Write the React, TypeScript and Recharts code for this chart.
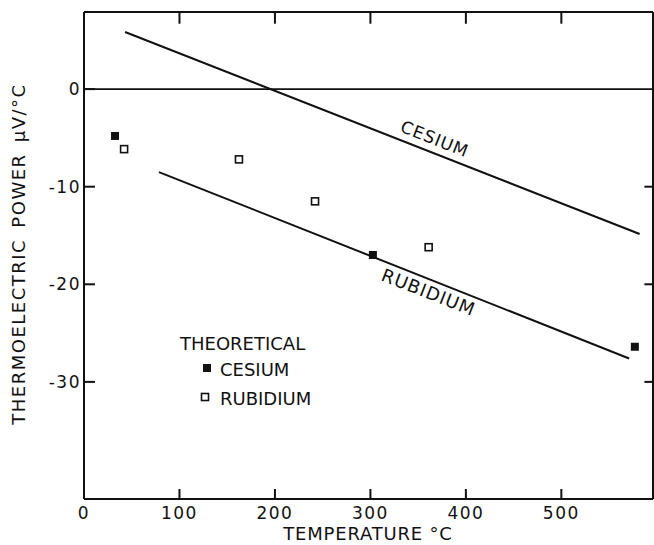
import React from 'react';
import {
  ScatterChart,
  Scatter,
  XAxis,
  YAxis,
  ReferenceLine,
  ReferenceDot,
} from 'recharts';

// Temperature (°C) axis ticks and thermoelectric power (µV/°C) axis ticks
const xTicks = [0, 100, 200, 300, 400, 500];
const yTicks = [0, -10, -20, -30];

// Measured trend lines (end points)
const cesiumLine = [
  { t: 43, s: 5.85 },
  { t: 582, s: -14.85 },
];
const rubidiumLine = [
  { t: 78.5, s: -8.5 },
  { t: 571, s: -27.6 },
];

// Theoretical values
const cesiumTheory = [
  { t: 32.5, s: -4.8 },
  { t: 302.6, s: -17.0 },
  { t: 577, s: -26.4 },
];
const rubidiumTheory = [
  { t: 42, s: -6.15 },
  { t: 162.3, s: -7.2 },
  { t: 242, s: -11.5 },
  { t: 361, s: -16.2 },
];

const INK = '#111';
const FONT = '"DejaVu Sans", "Liberation Sans", sans-serif';
const W = 654;
const H = 545;
const X_MIN = 0;
const X_MAX = 596;
const Y_MIN = -42;
const Y_MAX = 7.9;
// inward tick lengths for the top and right edges, in data units
const TOP_TICK_LEN = 1.2;
const RIGHT_TICK_LEN = 9;

const BottomTick = (p: any) => (
  <g>
    <line x1={p.x} y1={p.y} x2={p.x} y2={p.y - 10} stroke={INK} strokeWidth={2} />
    <text
      x={p.x}
      y={p.y + 20}
      textAnchor="middle"
      fontFamily={FONT}
      fontSize={17}
      letterSpacing={1.5}
      fill={INK}
    >
      {p.payload.value}
    </text>
  </g>
);

const LeftTick = (p: any) => (
  <g>
    <line x1={p.x} y1={p.y} x2={p.x + 11} y2={p.y} stroke={INK} strokeWidth={2} />
    <text
      x={p.x - 3}
      y={p.y + 6}
      textAnchor="end"
      fontFamily={FONT}
      fontSize={17}
      letterSpacing={1.5}
      fill={INK}
    >
      {p.payload.value}
    </text>
  </g>
);

const FilledSquare = (p: any) => (
  <rect x={p.cx - 4} y={p.cy - 4} width={8} height={8} fill={INK} />
);

const OpenSquare = (p: any) => (
  <rect
    x={p.cx - 3.5}
    y={p.cy - 3.5}
    width={7}
    height={7}
    fill="#fff"
    stroke={INK}
    strokeWidth={1.6}
  />
);

const NoShape = () => <g />;

const lineLabel = (text: string, size: number) => (p: any) => (
  <text
    x={p.cx}
    y={p.cy}
    transform={`rotate(21.5 ${p.cx} ${p.cy})`}
    textAnchor="middle"
    dominantBaseline="central"
    fontFamily={FONT}
    fontSize={size}
    letterSpacing={1}
    fill={INK}
  >
    {text}
  </text>
);

export default function App() {
  return (
    <div style={{ position: 'absolute', left: 0, top: 0, width: W, height: H, background: '#fff' }}>
      <ScatterChart
        width={W}
        height={H}
        margin={{ top: 12, right: 1, bottom: 0, left: 0 }}
      >
        <XAxis
          dataKey="t"
          type="number"
          domain={[X_MIN, X_MAX]}
          ticks={xTicks}
          interval={0}
          height={46}
          axisLine={{ stroke: INK, strokeWidth: 2 }}
          tickLine={false}
          tickSize={0}
          tickMargin={0}
          tick={<BottomTick />}
          allowDataOverflow
        />
        <YAxis
          dataKey="s"
          type="number"
          domain={[Y_MIN, Y_MAX]}
          ticks={yTicks}
          interval={0}
          width={84}
          axisLine={{ stroke: INK, strokeWidth: 2 }}
          tickLine={false}
          tickSize={0}
          tickMargin={0}
          tick={<LeftTick />}
          allowDataOverflow
        />

        {/* frame: top and right edges */}
        <ReferenceLine y={Y_MAX} stroke={INK} strokeWidth={2} />
        <ReferenceLine x={X_MAX} stroke={INK} strokeWidth={2} />

        {/* inward ticks along the top edge */}
        {xTicks.slice(1).map((t) => (
          <ReferenceLine
            key={`tt${t}`}
            segment={[
              { x: t, y: Y_MAX },
              { x: t, y: Y_MAX - TOP_TICK_LEN },
            ]}
            stroke={INK}
            strokeWidth={2}
          />
        ))}
        {/* inward ticks along the right edge */}
        {yTicks.slice(1).map((v) => (
          <ReferenceLine
            key={`rt${v}`}
            segment={[
              { x: X_MAX, y: v },
              { x: X_MAX - RIGHT_TICK_LEN, y: v },
            ]}
            stroke={INK}
            strokeWidth={2}
          />
        ))}

        <ReferenceLine y={0} stroke={INK} strokeWidth={1.8} />

        <Scatter
          data={cesiumLine}
          dataKey="s"
          line={{ stroke: INK, strokeWidth: 2 }}
          shape={NoShape}
          isAnimationActive={false}
        />
        <Scatter
          data={rubidiumLine}
          dataKey="s"
          line={{ stroke: INK, strokeWidth: 2 }}
          shape={NoShape}
          isAnimationActive={false}
        />
        <Scatter
          data={cesiumTheory}
          dataKey="s"
          shape={FilledSquare}
          isAnimationActive={false}
        />
        <Scatter
          data={rubidiumTheory}
          dataKey="s"
          shape={OpenSquare}
          isAnimationActive={false}
        />

        <ReferenceDot x={367.5} y={-5.1} r={1} shape={lineLabel('CESIUM', 17)} />
        <ReferenceDot x={361} y={-20.8} r={1} shape={lineLabel('RUBIDIUM', 18)} />
      </ScatterChart>

      <svg
        width={W}
        height={H}
        style={{ position: 'absolute', left: 0, top: 0, pointerEvents: 'none' }}
      >
        <text
          x={368}
          y={540}
          textAnchor="middle"
          fontFamily={FONT}
          fontSize={18}
          letterSpacing={0.8}
          fill={INK}
        >
          TEMPERATURE °C
        </text>
        <text
          x={0}
          y={0}
          transform="translate(25 254) rotate(-90)"
          textAnchor="middle"
          fontFamily={FONT}
          fontSize={18}
          letterSpacing={1.5}
          wordSpacing={4}
          fill={INK}
        >
          THERMOELECTRIC POWER μV/°C
        </text>

        <text x={180} y={350} fontFamily={FONT} fontSize={18} fill={INK}>
          THEORETICAL
        </text>
        <rect x={203} y={364} width={8} height={8} fill={INK} />
        <text x={220} y={376} fontFamily={FONT} fontSize={18} fill={INK}>
          CESIUM
        </text>
        <rect x={201.5} y={393.5} width={7} height={7} fill="#fff" stroke={INK} strokeWidth={1.6} />
        <text x={220} y={405} fontFamily={FONT} fontSize={18} fill={INK}>
          RUBIDIUM
        </text>
      </svg>
    </div>
  );
}
